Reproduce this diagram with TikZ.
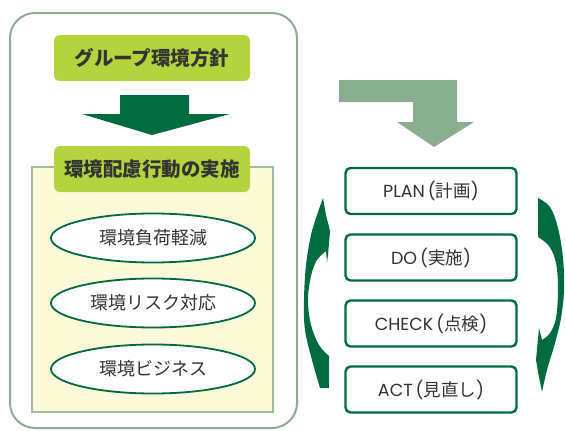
\documentclass[tikz,border=0pt]{standalone}
\usepackage{fontspec}
\setmainfont{Noto Sans CJK JP}
\newfontfamily\jp{Noto Sans CJK JP}
\newfontfamily\lat{Poppins}
\usetikzlibrary{shapes.geometric}
\definecolor{dkgreen}{HTML}{006B3F}
\definecolor{ygreen}{HTML}{B5D33C}
\definecolor{ggreen}{HTML}{8BAE8E}
\definecolor{panelfill}{HTML}{FDFAD9}
\definecolor{panelline}{HTML}{9DBF9D}
\definecolor{txt}{HTML}{333333}
\newcommand{\lp}{{\lat\,(}}
\newcommand{\rp}{{\lat)}}
\tikzset{
  headbox/.style={fill=ygreen, rounded corners=6pt, minimum width=196pt, minimum height=46pt, inner sep=0pt, text=txt, font=\jp\bfseries\fontsize{19.5}{21}\selectfont},
  oval/.style={ellipse, draw=dkgreen, line width=1.8pt, fill=white, minimum width=204pt, minimum height=49pt, inner sep=0pt, text=txt, font=\jp\fontsize{18}{20}\selectfont},
  pdca/.style={draw=dkgreen, line width=2.4pt, fill=white, rounded corners=5pt, minimum width=171pt, minimum height=46pt, inner sep=0pt, text=txt, font=\jp\fontsize{17.5}{19}\selectfont},
}
\begin{document}
\begin{tikzpicture}[x=1pt,y=-1pt]
\useasboundingbox (0,0) rectangle (565,431);
% outer frame
\draw[ggreen, line width=2pt, rounded corners=25pt] (10,13) rectangle (297,428);
% panel
\draw[panelline, fill=panelfill, line width=1.5pt] (32,167) rectangle (273,412);
% boxes
\node[headbox] (policy) at (152,58) {グループ環境方針};
\node[headbox] (action) at (152,169) {環境配慮行動の実施};
% dark arrow
\fill[dkgreen] (120,95) -- (189,95) -- (189,114) -- (230,114) -- (152,135) -- (82,114) -- (120,114) -- cycle;
% ellipses
\node[oval] (e1) at (153,238) {環境負荷軽減};
\node[oval] (e2) at (153,303) {環境リスク対応};
\node[oval] (e3) at (153,369) {環境ビジネス};
% L arrow
\fill[ggreen] (339,80) -- (457,80) -- (457,122) -- (474,122) -- (434,147) -- (397,122) -- (413,122) -- (413,102) -- (339,102) -- cycle;
% PDCA
\node[pdca] (plan) at (431,191) {{\lat PLAN}\lp 計画\rp};
\node[pdca] (do) at (431,257.5) {{\lat DO}\lp 実施\rp};
\node[pdca] (check) at (431,323.5) {{\lat CHECK}\lp 点検\rp};
\node[pdca] (act) at (431,389.5) {{\lat ACT}\lp 見直し\rp};
% left crescent arrow (up)
\fill[dkgreen] plot[smooth, tension=0.6] coordinates {(320,388) (312,360) (305,330) (304,300) (306,265) (311,235) (317,215) (323,198)}
  -- (326,215) -- (330,231) -- (328,255) -- (327,262) -- (326,251)
  -- plot[smooth, tension=0.6] coordinates {(326,251) (317,260) (311,276) (308,300) (311,325) (319,345) (329,356)}
  -- (329,388) -- cycle;
% right crescent arrow (down)
\fill[dkgreen] plot[smooth, tension=0.6] coordinates {(538,198) (550,207) (558,228) (563,258) (564,290) (561,318) (555,343) (547,370) (542,392)}
  -- (538,372) -- (536,360) -- (539,328) -- (542,340)
  -- plot[smooth, tension=0.6] coordinates {(542,340) (550,333) (556,318) (558,290) (556,263) (549,246) (538,237)}
  -- cycle;
\end{tikzpicture}
\end{document}
